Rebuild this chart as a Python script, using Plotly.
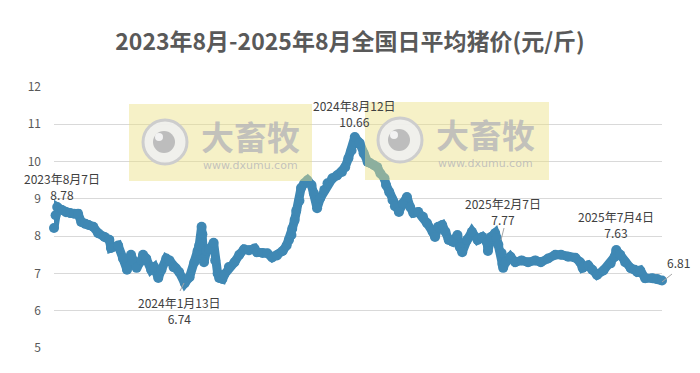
import plotly.graph_objects as go

dates = [
    "2023-08-03", "2023-08-05", "2023-08-07", "2023-08-13", "2023-08-18", "2023-08-23",
    "2023-08-28", "2023-09-02", "2023-09-06", "2023-09-11", "2023-09-15", "2023-09-21",
    "2023-09-27", "2023-10-05", "2023-10-11", "2023-10-13", "2023-10-22", "2023-10-28",
    "2023-11-02", "2023-11-07", "2023-11-14", "2023-11-20", "2023-11-22", "2023-11-26",
    "2023-12-02", "2023-12-06", "2023-12-11", "2023-12-15", "2023-12-21", "2023-12-25",
    "2023-12-30", "2024-01-02", "2024-01-06", "2024-01-13", "2024-01-19", "2024-01-25",
    "2024-01-29", "2024-01-31", "2024-02-03", "2024-02-04", "2024-02-06", "2024-02-09",
    "2024-02-13", "2024-02-18", "2024-02-20", "2024-02-23", "2024-02-25", "2024-02-29",
    "2024-03-02", "2024-03-08", "2024-03-15", "2024-03-21", "2024-03-27", "2024-04-02",
    "2024-04-09", "2024-04-12", "2024-04-19", "2024-04-25", "2024-05-01", "2024-05-07",
    "2024-05-14", "2024-05-19", "2024-05-22", "2024-05-25", "2024-05-26", "2024-05-29",
    "2024-05-31", "2024-06-04", "2024-06-06", "2024-06-10", "2024-06-14", "2024-06-19",
    "2024-06-22", "2024-06-26", "2024-06-30", "2024-07-05", "2024-07-09", "2024-07-15",
    "2024-07-21", "2024-07-27", "2024-07-31", "2024-08-04", "2024-08-08", "2024-08-12",
    "2024-08-18", "2024-08-23", "2024-08-28", "2024-08-31", "2024-09-05", "2024-09-09",
    "2024-09-13", "2024-09-18", "2024-09-20", "2024-09-24", "2024-09-28", "2024-10-01",
    "2024-10-06", "2024-10-11", "2024-10-16", "2024-10-20", "2024-10-24", "2024-10-30",
    "2024-11-05", "2024-11-10", "2024-11-17", "2024-11-20", "2024-11-24", "2024-11-29",
    "2024-12-03", "2024-12-07", "2024-12-12", "2024-12-18", "2024-12-21", "2024-12-24",
    "2024-12-30", "2025-01-05", "2025-01-12", "2025-01-18", "2025-01-24", "2025-01-25",
    "2025-01-29", "2025-02-03", "2025-02-05", "2025-02-07", "2025-02-11", "2025-02-12",
    "2025-02-13", "2025-02-16", "2025-02-22", "2025-02-28", "2025-03-08", "2025-03-16",
    "2025-03-25", "2025-04-01", "2025-04-10", "2025-04-19", "2025-04-26", "2025-05-05",
    "2025-05-14", "2025-05-20", "2025-05-23", "2025-05-30", "2025-06-04", "2025-06-10",
    "2025-06-18", "2025-06-27", "2025-07-02", "2025-07-04", "2025-07-09", "2025-07-15",
    "2025-07-22", "2025-07-27", "2025-07-30", "2025-08-03", "2025-08-09", "2025-08-18",
    "2025-08-24", "2025-08-30",
]
prices = [
    8.22, 8.56, 8.78, 8.70, 8.64, 8.62,
    8.60, 8.60, 8.38, 8.33, 8.30, 8.25,
    8.08, 7.98, 7.90, 7.68, 7.75, 7.40,
    7.10, 7.50, 7.15, 7.35, 7.50, 7.40,
    7.10, 7.17, 6.88, 7.10, 7.40, 7.35,
    7.17, 7.14, 7.04, 6.74, 6.90, 7.30,
    7.60, 7.75, 8.25, 8.05, 7.30, 7.60,
    7.65, 7.82, 7.35, 7.00, 6.88, 6.85,
    6.96, 7.17, 7.30, 7.50, 7.65, 7.62,
    7.67, 7.57, 7.55, 7.54, 7.43, 7.48,
    7.60, 7.75, 7.90, 8.03, 8.20, 8.43,
    8.68, 8.95, 9.29, 9.42, 9.50, 9.37,
    9.15, 8.75, 9.02, 9.24, 9.42, 9.55,
    9.63, 9.72, 9.85, 10.09, 10.30, 10.66,
    10.50, 10.22, 9.99, 9.96, 9.90, 9.85,
    9.68, 9.55, 9.37, 9.18, 8.97, 8.80,
    8.65, 8.88, 9.05, 8.78, 8.62, 8.65,
    8.52, 8.35, 8.12, 7.98, 8.25, 8.30,
    8.12, 7.90, 7.85, 8.03, 7.70, 7.57,
    7.90, 8.12, 7.90, 7.98, 7.82, 7.60,
    7.98, 8.08, 7.95, 7.77, 7.55, 7.25,
    7.15, 7.30, 7.45, 7.30, 7.35, 7.30,
    7.35, 7.30, 7.40, 7.50, 7.50, 7.45,
    7.42, 7.30, 7.15, 7.22, 7.10, 6.96,
    7.08, 7.27, 7.45, 7.63, 7.50, 7.30,
    7.14, 7.10, 7.04, 7.08, 6.87, 6.87,
    6.85, 6.81,
]

title_text = "2023年8月-2025年8月全国日平均猪价(元/斤)"
y_ticks = [5, 6, 7, 8, 9, 10, 11, 12]

label_dates = ["2023-08-07", "2024-01-13", "2024-08-12", "2025-02-07", "2025-07-04", "2025-08-30"]
label_names = ["2023年8月7日", "2024年1月13日", "2024年8月12日", "2025年2月7日", "2025年7月4日", ""]
label_values = [8.78, 6.74, 10.66, 7.77, 7.63, 6.81]

W, H = 700, 373
L, R, T, B = 54, 38, 87, 25
PW, PH = W - L - R, H - T - B


def px(xp):
    return (xp - L) / PW


def py(yp):
    return (H - B - yp) / PH


BLUE = "#3F88B4"
CJK = "Noto Sans CJK SC"

fig = go.Figure()
fig.add_trace(go.Scatter(
    x=dates, y=prices, mode="lines+markers",
    line=dict(color=BLUE, width=9),
    marker=dict(color=BLUE, size=10),
    cliponaxis=False, hoverinfo="x+y",
))

# data labels (offsets from their points, in pixels; positive y = up)
offsets = [(5, 21), (-5, -27), (0, 23), (5, 33), (0, 25), (16, 18)]
for d, name, v, (ax, ay) in zip(label_dates, label_names, label_values, offsets):
    txt = (name + "<br>" if name else "") + f"{v:.2f}"
    fig.add_annotation(
        x=d, y=v, text=txt, showarrow=False, xshift=ax, yshift=ay,
        font=dict(family=CJK, size=12, color="#404040"), align="center",
        xanchor="center", yanchor="middle",
    )

# leader lines
leaders = [((180, 291), (184, 283)), ((504, 228), (501, 240)), ((662, 282), (672, 274))]
for (x0, y0), (x1, y1) in leaders:
    fig.add_shape(type="line", xref="paper", yref="paper",
                  x0=px(x0), y0=py(y0), x1=px(x1), y1=py(y1),
                  line=dict(color="#A6A6A6", width=1))

# watermarks
boxes = [(129, 104, 312, 181, 165, 142), (365, 102, 549, 180, 400, 140)]
for bx0, by0, bx1, by1, cx, cy in boxes:
    fig.add_shape(type="rect", xref="paper", yref="paper",
                  x0=px(bx0), y0=py(by0), x1=px(bx1), y1=py(by1),
                  fillcolor="rgba(236,224,130,0.45)", line=dict(width=0), layer="above")
    r = 22
    fig.add_shape(type="circle", xref="paper", yref="paper",
                  x0=px(cx - r), y0=py(cy + r), x1=px(cx + r), y1=py(cy - r),
                  fillcolor="rgba(240,240,240,0.9)", line=dict(color="#CDCDCD", width=3), layer="above")
    r2 = 11
    fig.add_shape(type="circle", xref="paper", yref="paper",
                  x0=px(cx - 1 - r2), y0=py(cy + r2), x1=px(cx - 1 + r2), y1=py(cy - r2),
                  fillcolor="#BDBDBD", line=dict(width=0), layer="above")
    r3 = 4
    fig.add_shape(type="circle", xref="paper", yref="paper",
                  x0=px(cx - 6 - r3), y0=py(cy - 5 + r3), x1=px(cx - 6 + r3), y1=py(cy - 5 - r3),
                  fillcolor="#F2F2F2", line=dict(width=0), layer="above")
    fig.add_annotation(xref="paper", yref="paper", x=px(cx + 85), y=py(cy - 6),
                       xanchor="center", yanchor="middle", borderpad=0,
                       text="<b>大畜牧</b>", showarrow=False,
                       font=dict(family=CJK, size=33, color="rgba(185,185,185,0.85)"))
    fig.add_annotation(xref="paper", yref="paper", x=px(cx + 85), y=py(cy + 23),
                       xanchor="center", yanchor="middle", borderpad=0,
                       text="www.dxumu.com", showarrow=False,
                       font=dict(family="DejaVu Sans", size=11, color="rgba(185,185,185,0.85)"))

fig.update_layout(
    width=W, height=H,
    margin=dict(l=L, r=R, t=T, b=B),
    paper_bgcolor="white", plot_bgcolor="white",
    showlegend=False,
    title=dict(text="<b>" + title_text + "</b>", x=0.5, xanchor="center",
               y=1 - 42 / H, yanchor="middle",
               font=dict(family=CJK, size=23, color="#595959")),
    xaxis=dict(type="date", range=["2023-08-03", "2025-08-30"], showgrid=False,
               showticklabels=False, zeroline=False, showline=False, ticks=""),
    yaxis=dict(range=[5, 12], tickvals=y_ticks, showgrid=True, gridcolor="#D9D9D9",
               gridwidth=1, zeroline=False, showline=False, ticks="",
               tickfont=dict(family=CJK, size=12, color="#595959"), ticklabelstandoff=12),
)

fig.write_html("out.html")
